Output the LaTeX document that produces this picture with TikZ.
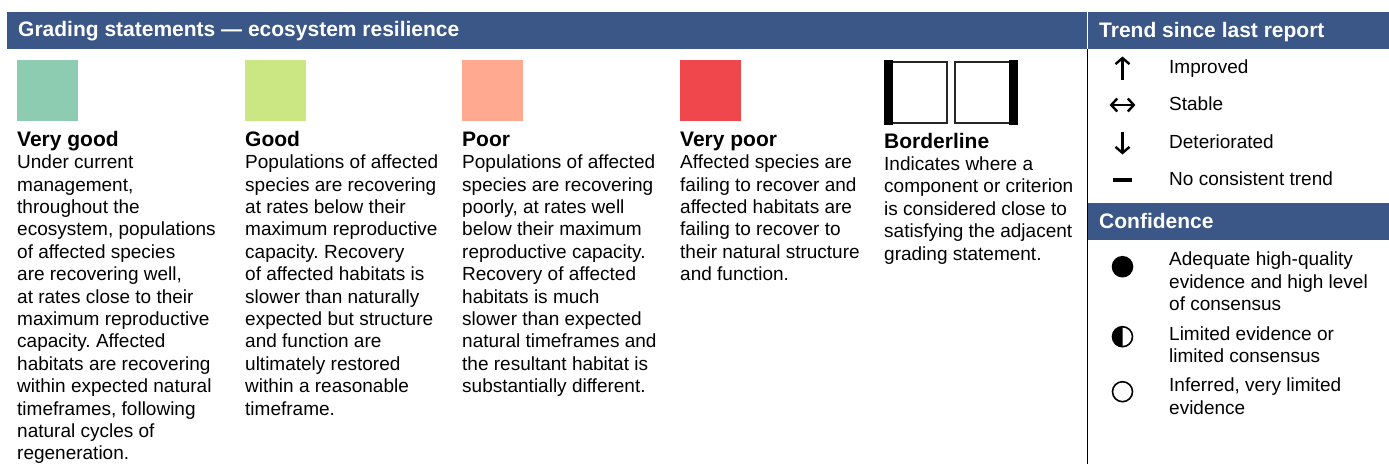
\documentclass[tikz,border=0pt]{standalone}
\usepackage{fontspec}
\setmainfont{Liberation Sans}
\usetikzlibrary{positioning,arrows.meta}
\definecolor{barblue}{HTML}{3B5787}
\definecolor{verygood}{HTML}{8DCCB0}
\definecolor{good}{HTML}{CBE784}
\definecolor{poor}{HTML}{FFA990}
\definecolor{verypoor}{HTML}{F0474C}
\frenchspacing
\newcommand{\bodysize}{\fontsize{19}{22.4}\selectfont}
\newcommand{\topstrut}{\rule{0pt}{16pt}}
\tikzset{
  every picture/.style={x=1pt, y=-1pt, >=Straight Barb},
  bar/.style={fill=barblue, draw=none},
  bartext/.style={anchor=base west, inner sep=0, text=white,
                  font=\fontsize{21}{24}\selectfont\bfseries},
  swatch/.style={minimum size=61pt, inner sep=0, anchor=north west, draw=none},
  borderbox/.style={draw=black!85, line width=2pt, minimum width=61pt,
                    minimum height=60.7pt, inner sep=0, anchor=north west},
  grade/.style={anchor=base west, inner sep=0,
                font=\fontsize{21}{24}\selectfont\bfseries},
  statement/.style={anchor=north west, inner sep=0, align=left, font=\bodysize},
  keytext/.style={anchor=north west, inner sep=0, align=left, font=\bodysize},
  trendarrow/.style={line width=2.4pt, -{Straight Barb[length=6pt, width=14pt]}}}

\begin{document}
\begin{tikzpicture}
    \useasboundingbox (0,0) rectangle (1389,464);

    \fill[bar] (7,12) rectangle (1087,48.5);
    \fill[bar] (1088,12) rectangle (1389,48.5);
    \draw[line width=1.2pt] (1087.5,48.5) -- (1087.5,464);
    \fill[bar] (1088,203) rectangle (1389,239.5);

    \node[bartext] (gradeTitle) at (18,36.7) {Grading statements — ecosystem resilience};
    \node[bartext] (trendTitle) at (1099,37) {Trend since last report};
    \node[bartext] (confTitle) at (1099,228.3) {Confidence};

    \node[swatch, fill=verygood] (vgBox) at (17,60) {};
    \node[grade] (vgHead) at (17,146) {Very good};
    \node[statement] (vgText) at ([yshift=-6.5pt]vgHead.base west)
    {\topstrut Under current\\management,\\throughout the\\ecosystem, populations\\of affected species\\are recovering well,\\at rates close to their\\maximum reproductive\\capacity. Affected\\habitats are recovering\\within expected natural\\timeframes, following\\natural cycles of\\regeneration.};

    \node[swatch, fill=good] (gBox) at (245,60) {};
    \node[grade] (gHead) at (245,146) {Good};
    \node[statement] (gText) at ([yshift=-6.5pt]gHead.base west)
    {\topstrut Populations of affected\\species are recovering\\at rates below their\\maximum reproductive\\capacity. Recovery\\of affected habitats is\\slower than naturally\\expected but structure\\and function are\\ultimately restored\\within a reasonable\\timeframe.};

    \node[swatch, fill=poor] (pBox) at (462,60) {};
    \node[grade] (pHead) at (462,146) {Poor};
    \node[statement] (pText) at ([yshift=-6.5pt]pHead.base west)
    {\topstrut Populations of affected\\species are recovering\\poorly, at rates well\\below their maximum\\reproductive capacity.\\Recovery of affected\\habitats is much\\slower than expected\\natural timeframes and\\the resultant habitat is\\substantially different.};

    \node[swatch, fill=verypoor] (vpBox) at (680,60) {};
    \node[grade] (vpHead) at (680,146) {Very poor};
    \node[statement] (vpText) at ([yshift=-6.5pt]vpHead.base west)
    {\topstrut Affected species are\\failing to recover and\\affected habitats are\\failing to recover to\\their natural structure\\and function.};

    \node[borderbox] (blLeft) at (885,61) {};
    \fill ([xshift=-1pt,yshift=1pt]blLeft.north west) rectangle ([xshift=8pt,yshift=-1pt]blLeft.south west);
    \node[borderbox] (blRight) at (954,61) {};
    \fill ([xshift=-8pt,yshift=1pt]blRight.north east) rectangle ([xshift=1pt,yshift=-1pt]blRight.south east);
    \node[grade] (blHead) at (884,148.3) {Borderline};
    \node[statement] (blText) at ([yshift=-6pt]blHead.base west)
    {\topstrut Indicates where a\\component or criterion\\is considered close to\\satisfying the adjacent\\grading statement.};

    \coordinate (improved) at (1122.5,73);
    \coordinate (stable) at (1122.5,110.7);
    \coordinate (deteriorated) at (1122.5,148.3);
    \coordinate (noTrend) at (1122.5,185.3);
    \draw[trendarrow] (improved) ++(0,7) -- ++(0,-23.5);
    \draw[trendarrow, {Straight Barb[length=6pt, width=13pt]}-{Straight Barb[length=6pt, width=13pt]}]
      (stable) ++(-12.9,-5.7) -- ++(25.8,0);
    \draw[trendarrow] (deteriorated) ++(0,-16.6) -- ++(0,22.8);
    \draw[line width=4pt] (noTrend) ++(-9.2,-5.3) -- ++(18.4,0);
    \node[keytext] (improvedText) at ([shift={(46.5pt,16pt)}]improved) {\topstrut Improved};
    \node[keytext] (stableText) at ([shift={(46.5pt,16pt)}]stable) {\topstrut Stable};
    \node[keytext] (deterioratedText) at ([shift={(46.5pt,16pt)}]deteriorated) {\topstrut Deteriorated};
    \node[keytext] (noTrendText) at ([shift={(46.5pt,16pt)}]noTrend) {\topstrut No consistent trend};

    \coordinate (high) at (1122.5,265.7);
    \coordinate (limited) at (1122.5,340);
    \coordinate (inferred) at (1122.5,391.7);
    \fill (high) ++(0,1) circle[radius=10.8];
    \begin{scope}
      \clip (limited) ++(-12,-15) rectangle ++(12,24);
      \fill (limited) ++(0,-3.3) circle[radius=10];
    \end{scope}
    \draw[line width=1.6pt] (limited) ++(0,-3.3) circle[radius=10];
    \draw[line width=1.6pt] (inferred) circle[radius=10];
    \node[keytext] (highText) at ([shift={(46.5pt,16pt)}]high)
    {\topstrut Adequate high-quality\\evidence and high level\\of consensus};
    \node[keytext] (limitedText) at ([shift={(46.5pt,16pt)}]limited)
    {\topstrut Limited evidence or\\limited consensus};
    \node[keytext] (inferredText) at ([shift={(46.5pt,16pt)}]inferred)
    {\topstrut Inferred, very limited\\evidence};
  \end{tikzpicture}
\end{document}
